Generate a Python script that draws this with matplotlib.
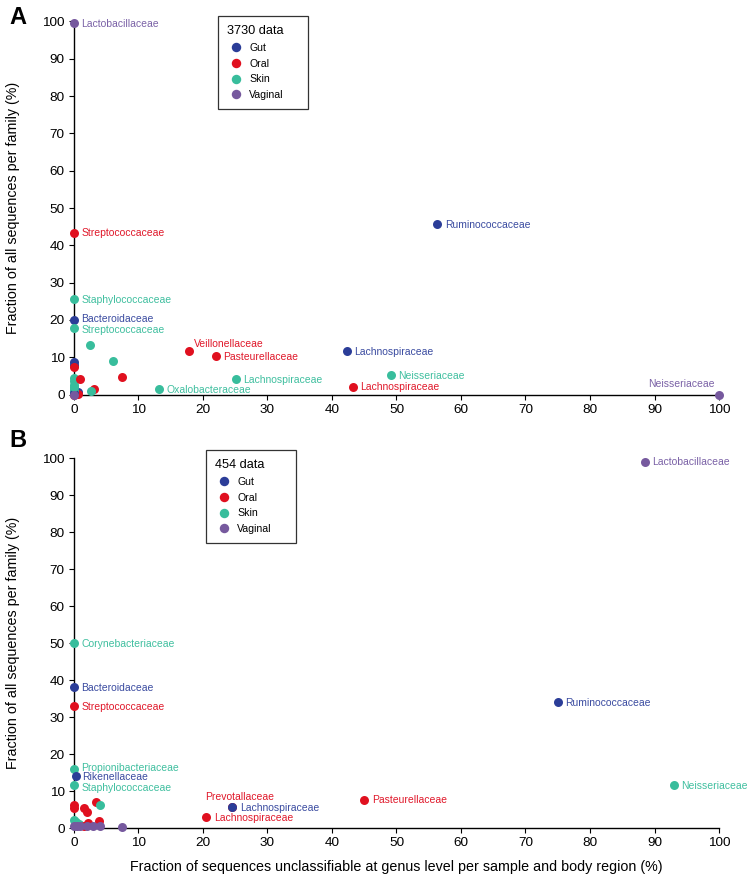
import matplotlib
matplotlib.use("Agg")
import matplotlib.pyplot as plt
from matplotlib.lines import Line2D

plt.rcParams["font.family"] = ["Liberation Sans", "DejaVu Sans"]

GROUPS = ["Gut", "Oral", "Skin", "Vaginal"]
DOT_COLORS = {"Gut": "#2b3d98", "Oral": "#e0101f", "Skin": "#38bd9c", "Vaginal": "#76599e"}
TEXT_COLORS = {"Gut": "#3a4ba0", "Oral": "#e0182a", "Skin": "#3fbf9f", "Vaginal": "#7a61a6"}

# Panel A (3730 data)
a_x = [0, 0, 0, 0, 0, 0, 0, 0, 0.7, 0.6, 1.0, 3.1, 7.5, 2.6, 6.1, 2.5, 0, 0, 0, 0,
       0, 17.8, 22.0, 42.3, 25.1, 13.2, 49.1, 43.2, 56.3, 0, 0, 0, 0, 0, 100]
a_y = [8.8, 8.0, 7.5, 4.5, 3.5, 2.5, 1.5, 0.5, 0.8, 0.2, 4.3, 1.5, 4.6, 0.9, 9.1, 13.2, 1.0, 0.0, 0.3, 2.0,
       0.0, 11.7, 10.3, 11.7, 4.2, 1.5, 5.2, 2.1, 45.7, 43.4, 25.5, 20.0, 17.8, 99.6, 0]
a_group = ["Gut", "Gut", "Oral", "Skin", "Skin", "Skin", "Skin", "Skin", "Gut", "Oral", "Oral", "Oral", "Oral",
           "Skin", "Skin", "Skin", "Skin", "Oral", "Gut", "Skin",
           "Vaginal", "Oral", "Oral", "Gut", "Skin", "Skin", "Skin", "Oral", "Gut", "Oral", "Skin", "Gut", "Skin",
           "Vaginal", "Vaginal"]
a_label = [""] * 21 + ["Veillonellaceae", "Pasteurellaceae", "Lachnospiraceae", "Lachnospiraceae",
                       "Oxalobacteraceae", "Neisseriaceae", "Lachnospiraceae", "Ruminococcaceae",
                       "Streptococcaceae", "Staphylococcaceae", "Bacteroidaceae", "Streptococcaceae",
                       "Lactobacillaceae", "Neisseriaceae"]

# Panel B (454 data)
b_x = [0, 0, 1.5, 2.0, 3.4, 3.9, 2.2, 0, 0.3, 0.8, 1.5, 4.1, 0, 0.5, 1.0, 2.0, 3.0, 4.0, 7.5,
       24.5, 0, 0, 0, 0, 0.3, 0, 75, 93, 45, 24.5, 20.5, 88.5]
b_y = [6.2, 5.5, 5.3, 4.4, 7.1, 2.0, 1.3, 2.3, 1.5, 1.0, 0.6, 6.2, 0.5, 0.5, 0.5, 0.5, 0.5, 0.5, 0.4,
       5.6, 50, 38, 33, 16, 14, 11.5, 34, 11.5, 7.7, 5.6, 3.0, 99]
b_group = ["Oral", "Oral", "Oral", "Oral", "Oral", "Oral", "Oral", "Skin", "Skin", "Skin", "Oral", "Skin",
           "Vaginal", "Vaginal", "Vaginal", "Vaginal", "Vaginal", "Vaginal", "Vaginal",
           "Oral", "Skin", "Gut", "Oral", "Skin", "Gut", "Skin", "Gut", "Skin", "Oral", "Gut", "Oral", "Vaginal"]
b_label = [""] * 19 + ["Prevotallaceae", "Corynebacteriaceae", "Bacteroidaceae", "Streptococcaceae",
                       "Propionibacteriaceae", "Rikenellaceae", "Staphylococcaceae", "Ruminococcaceae",
                       "Neisseriaceae", "Pasteurellaceae", "Lachnospiraceae", "Lachnospiraceae",
                       "Lactobacillaceae"]

TICKS = list(range(0, 101, 10))

# label placements that differ from "just right of the dot"
SPECIAL = {
    ("A", "Veillonellaceae"): dict(xytext=(3.5, 5.0), ha="left"),
    ("A", "Neisseriaceae", "Vaginal"): dict(xytext=(-3.4, 7.3), ha="right"),
    ("A", "Bacteroidaceae"): dict(xytext=(5.5, 0.6), ha="left"),
    ("A", "Streptococcaceae", "Skin"): dict(xytext=(5.5, -1.5), ha="left"),
    ("B", "Prevotallaceae"): dict(xytext=(5.5, 7.7), ha="center"),
    ("B", "Propionibacteriaceae"): dict(xytext=(5.5, 0.9), ha="left"),
    ("B", "Rikenellaceae"): dict(xytext=(4.2, -0.5), ha="left"),
    ("B", "Staphylococcaceae"): dict(xytext=(5.5, -1.6), ha="left"),
}


def draw_panel(ax, tag, xs, ys, groups, labels):
    for x, y, g, lab in zip(xs, ys, groups, labels):
        ax.scatter(x, y, s=42, color=DOT_COLORS[g], linewidths=0, zorder=3, clip_on=False)
        if not lab:
            continue
        opts = SPECIAL.get((tag, lab, g)) or SPECIAL.get((tag, lab)) or dict(xytext=(5.5, -0.5), ha="left")
        ax.annotate(lab, (x, y), textcoords="offset points", va="center", fontsize=7.5,
                    color=TEXT_COLORS[g], annotation_clip=False, **opts)

    ax.set_xlim(-2, 102)
    ax.set_ylim(-2, 102)
    for side in ["top", "right"]:
        ax.spines[side].set_visible(False)
    for side in ["left", "bottom"]:
        ax.spines[side].set_position(("data", 0))
        ax.spines[side].set_bounds(0, 100)
        ax.spines[side].set_linewidth(1.0)
    ax.set_xticks(TICKS)
    ax.set_yticks(TICKS)
    ax.tick_params(direction="out", length=3.3, width=0.8, labelsize=9.7, pad=3.5)
    ax.set_ylabel("Fraction of all sequences per family (%)", fontsize=10.3)
    ax.yaxis.set_label_coords(-0.061, 0.5)

    return [Line2D([], [], marker="o", linestyle="", markersize=6.8, markeredgewidth=0,
                   color=DOT_COLORS[g], label=g) for g in GROUPS]


fig = plt.figure(figsize=(7.54, 8.82), dpi=100)
ax_a = fig.add_axes([0.0810, 0.5442, 0.8897, 0.4399])
ax_b = fig.add_axes([0.0810, 0.0528, 0.8897, 0.4363])

for ax, tag, xs, ys, gs, ls, title, box in [
    (ax_a, "A", a_x, a_y, a_group, a_label, "3730 data", (218, 16, 90, 91)),
    (ax_b, "B", b_x, b_y, b_group, b_label, "454 data", (206, 450, 90, 90)),
]:
    handles = draw_panel(ax, tag, xs, ys, gs, ls)
    left, top, width, height = box
    anchor = (left / 754, 1 - (top + height) / 882, width / 754, height / 882)
    leg = ax.legend(handles=handles, title=title, loc="upper left", bbox_to_anchor=anchor,
                    bbox_transform=fig.transFigure, mode="expand", borderaxespad=0, fancybox=False,
                    edgecolor="#333333", fontsize=7.6, title_fontsize=9.2, handletextpad=0.3,
                    labelspacing=0.55, borderpad=0.85, handlelength=1.8, framealpha=1)
    leg._legend_box.align = "left"
    leg.get_frame().set_linewidth(0.9)

fig.text(0.012, 1 - 18 / 882, "A", fontsize=17, fontweight="bold", va="center")
fig.text(0.012, 1 - 440 / 882, "B", fontsize=17, fontweight="bold", va="center")
fig.text(396 / 754, 1 - 867 / 882,
         "Fraction of sequences unclassifiable at genus level per sample and body region (%)",
         fontsize=10.3, ha="center", va="center")

fig.savefig("out.png", dpi=100)
